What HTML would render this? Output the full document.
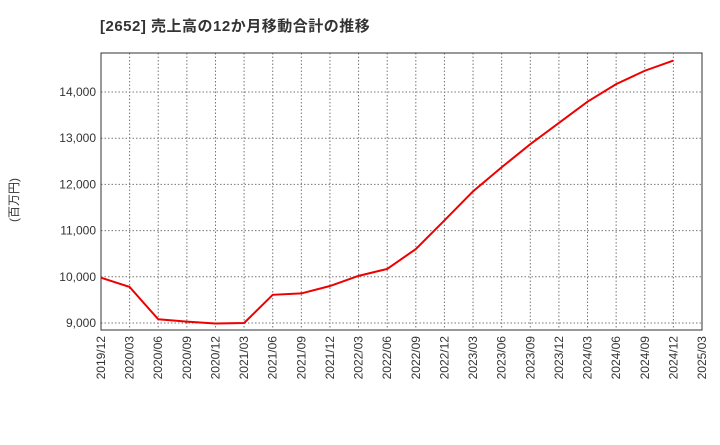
<!DOCTYPE html>
<html><head><meta charset="utf-8"><style>
body{margin:0;background:#fff;font-family:"Liberation Sans","Noto Sans CJK JP",sans-serif;}
</style></head><body>
<svg id="chart" width="720" height="440" xmlns="http://www.w3.org/2000/svg">
<text x="100" y="31" font-size="15" font-weight="bold" fill="#333" letter-spacing="0.5" font-family="Liberation Sans, Noto Sans CJK JP, sans-serif">[2652]  売上高の12か月移動合計の推移</text>
<text transform="translate(18,200) rotate(-90)" font-size="12" fill="#333" text-anchor="middle" font-family="Liberation Sans, Noto Sans CJK JP, sans-serif">(百万円)</text>
<g id="grid"></g><g id="axes"></g><g id="series"></g>
</svg>
<script>
const categories=["2019/12","2020/03","2020/06","2020/09","2020/12","2021/03","2021/06","2021/09","2021/12","2022/03","2022/06","2022/09","2022/12","2023/03","2023/06","2023/09","2023/12","2024/03","2024/06","2024/09","2024/12","2025/03"];
const salesValues=[9980,9780,9080,9030,8990,9000,9610,9640,9800,10020,10170,10600,11220,11850,12370,12870,13330,13790,14170,14460,14680];
const yTicks=[9000,10000,11000,12000,13000,14000];
const yTickLabels=["9,000","10,000","11,000","12,000","13,000","14,000"];
const NS="http://www.w3.org/2000/svg";
const L=101,R=702,T=53,B=330,yMin=8848,yMax=14844;
const xs=i=>L+(R-L)*i/(categories.length-1);
const ys=v=>B-(v-yMin)/(yMax-yMin)*(B-T);
const grid=document.getElementById('grid'),axes=document.getElementById('axes'),ser=document.getElementById('series');
function mk(tag,attrs,parent){const e=document.createElementNS(NS,tag);for(const k in attrs)e.setAttribute(k,attrs[k]);parent.appendChild(e);return e;}
categories.forEach((c,i)=>{
 const x=xs(i);
 const g=mk('line',{x1:x,x2:x,y1:T,y2:B,stroke:'#777','stroke-dasharray':'1.5,2','stroke-width':1},grid);
 
 
 const t=mk('text',{transform:`translate(${x+4},${B+6}) rotate(-90)`,'font-size':12,fill:'#333','text-anchor':'end'},axes);
 t.textContent=c;
 
 
});
yTicks.forEach((v,i)=>{
 const y=ys(v);
 const g=mk('line',{x1:L,x2:R,y1:y,y2:y,stroke:'#777','stroke-dasharray':'1.5,2','stroke-width':1},grid);
 
 
 const t=mk('text',{x:L-5,y:y+4,'font-size':12,fill:'#333','text-anchor':'end'},axes);
 t.textContent=yTickLabels[i];
 
 
});
const frame=mk('rect',{x:L,y:T,width:R-L,height:B-T,fill:'none',stroke:'#333','stroke-width':1},axes);


const pts=salesValues.map((v,i)=>xs(i)+','+ys(v)).join(' ');
const line=mk('polyline',{points:pts,fill:'none',stroke:'#ee0000','stroke-width':2},ser);


</script>
</body></html>
